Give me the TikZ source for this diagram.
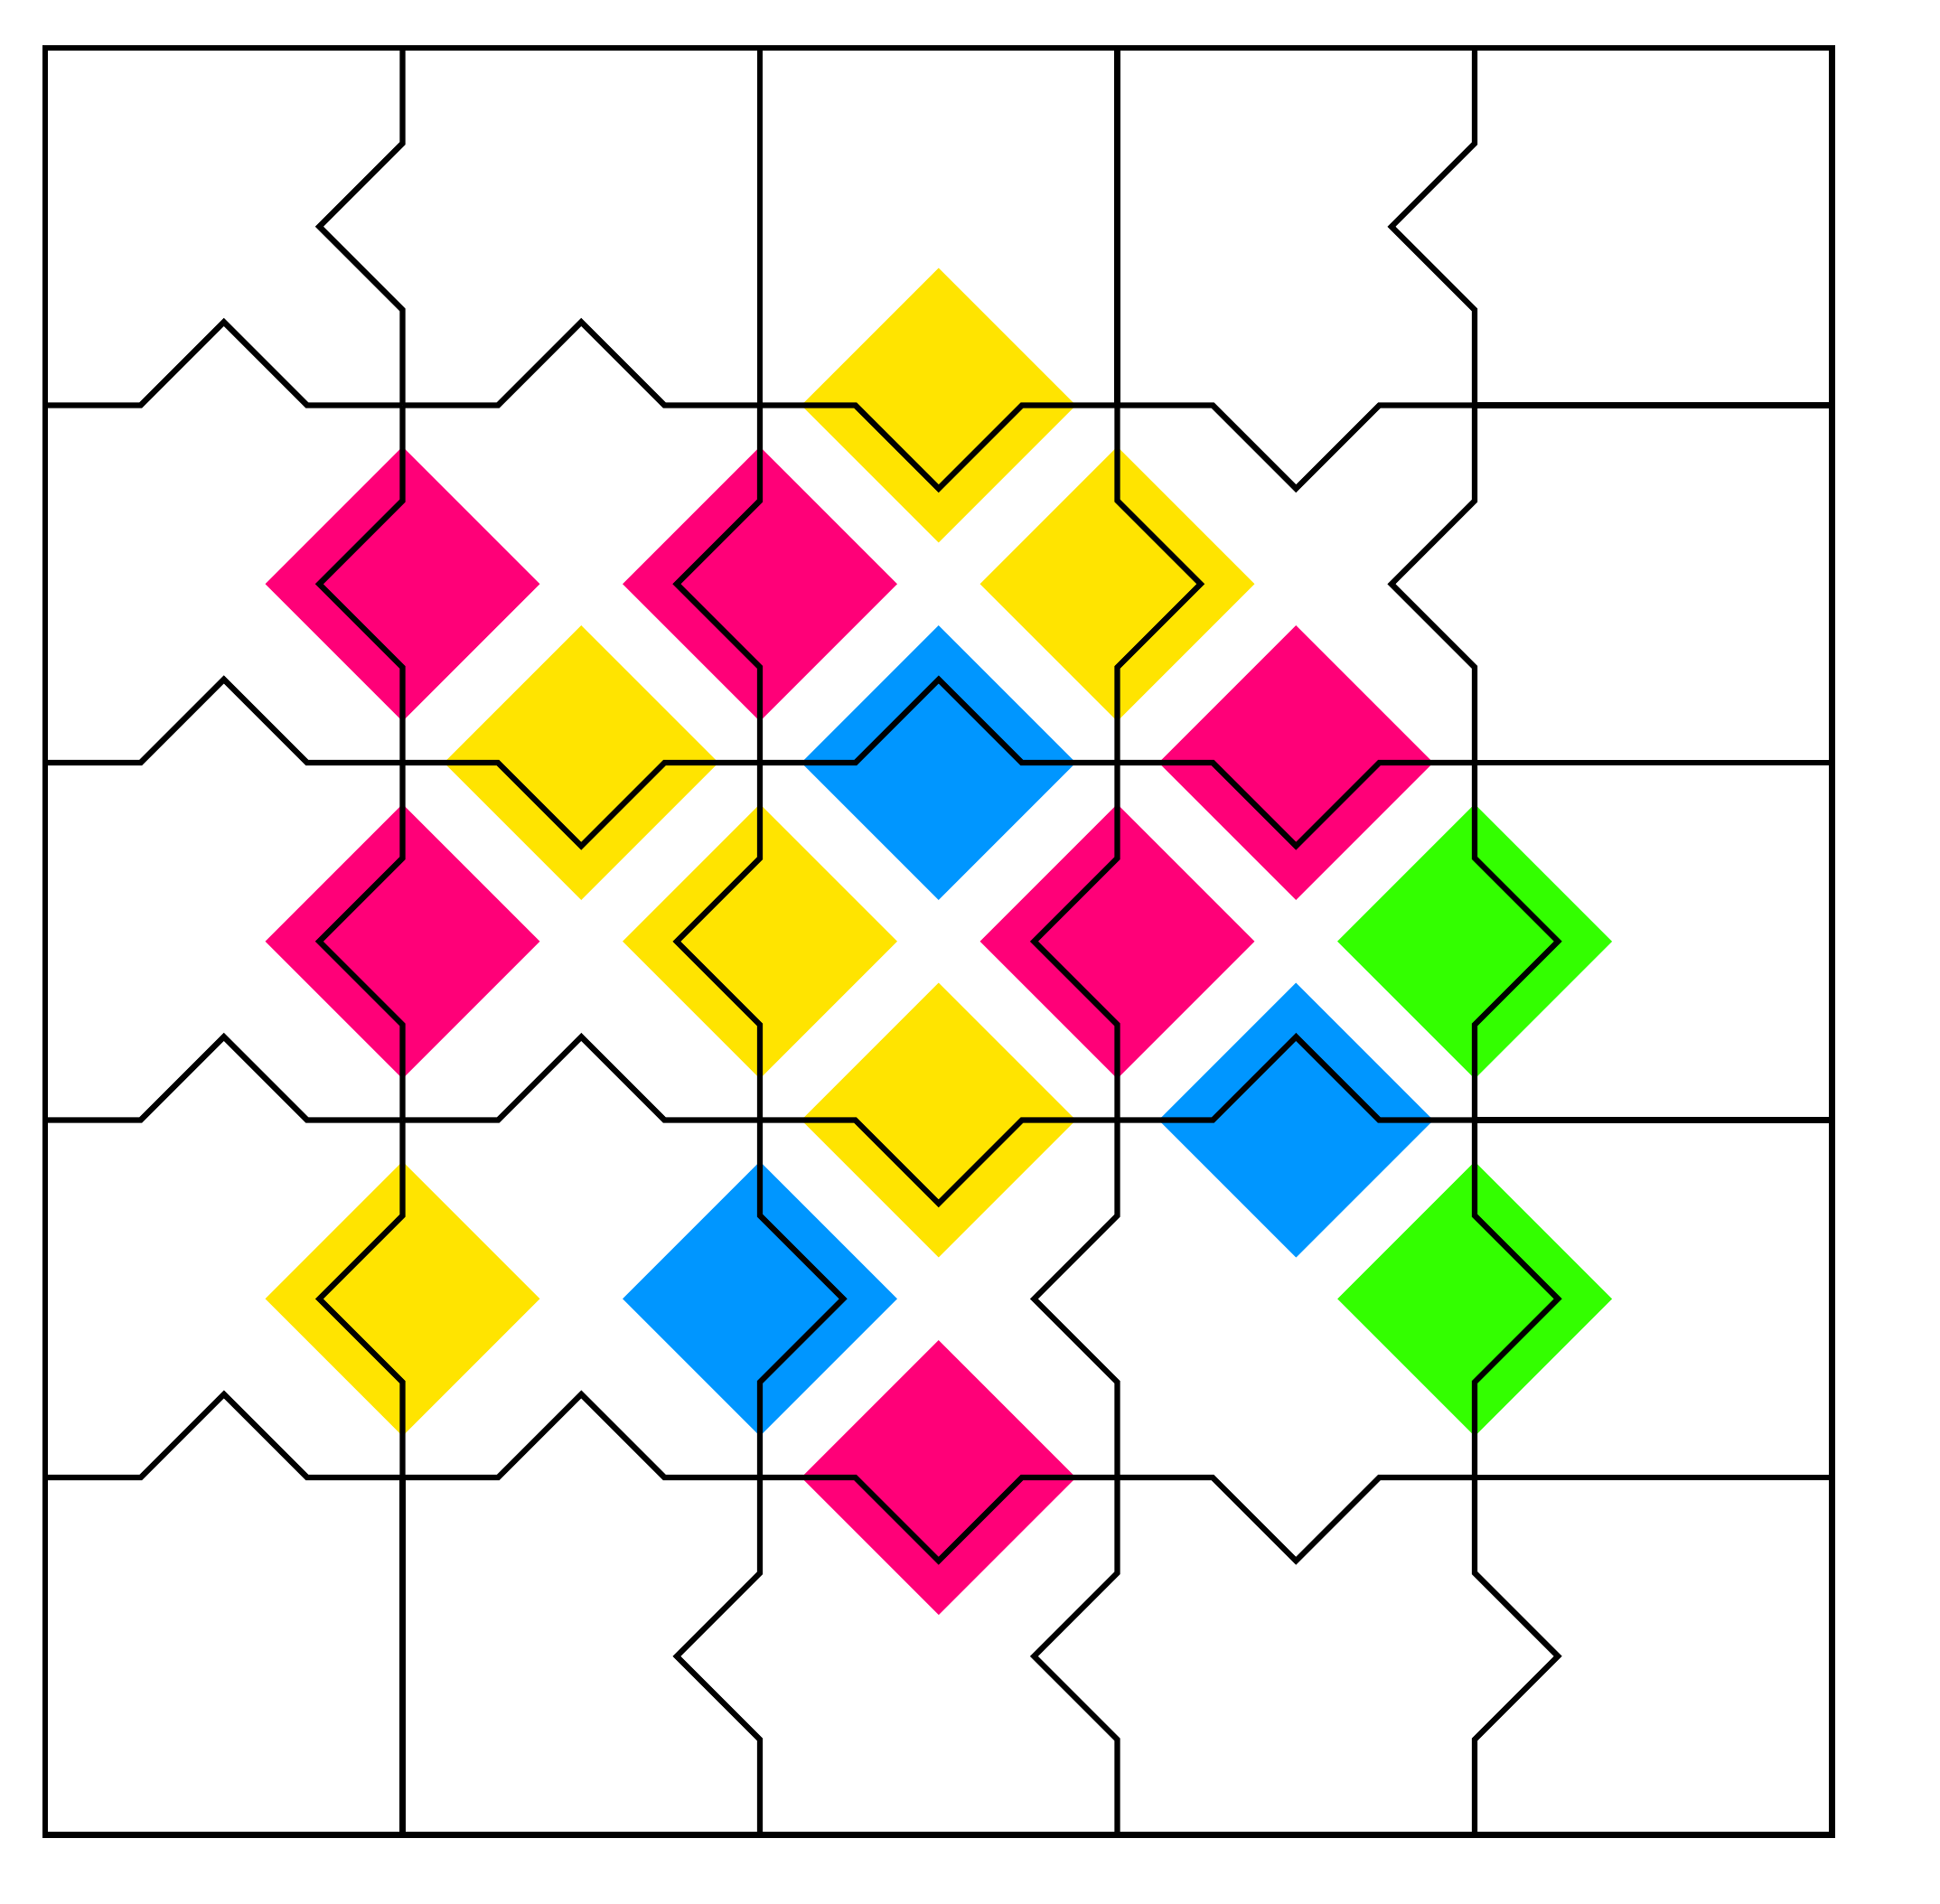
\documentclass[tikz,border=0pt]{standalone}
\usetikzlibrary{calc}
\definecolor{cpink}{HTML}{FF0078}
\definecolor{cyellow}{HTML}{FFE400}
\definecolor{cblue}{HTML}{0096FF}
\definecolor{cgreen}{HTML}{33FF00}
\begin{document}
\begin{tikzpicture}[x=2cm,y=2cm,
  edgeline/.style={draw=black,line width=0.9pt,line join=miter},
  gem/.style={fill=#1,draw=none}]
\def\a{0.233}
\def\r{0.384}
\useasboundingbox (-0.1264,0.134) rectangle (5.302,-5.191);
% diamonds on vertical edges: i, row, colour
\foreach \i/\rr/\c in {1/1/cpink,2/1/cpink,3/1/cyellow,
                      1/2/cpink,2/2/cyellow,3/2/cpink,4/2/cgreen,
                      1/3/cyellow,2/3/cblue,4/3/cgreen}{
  \fill[gem=\c] (\i-\r,-\rr-0.5) -- (\i,-\rr-0.5+\r) -- (\i+\r,-\rr-0.5) -- (\i,-\rr-0.5-\r) -- cycle;
}
% diamonds on horizontal edges: col, j, colour
\foreach \cc/\j/\c in {2/1/cyellow,1/2/cyellow,2/2/cblue,3/2/cpink,
                      2/3/cyellow,3/3/cblue,2/4/cpink}{
  \fill[gem=\c] (\cc+0.5-\r,-\j) -- (\cc+0.5,-\j+\r) -- (\cc+0.5+\r,-\j) -- (\cc+0.5,-\j-\r) -- cycle;
}
% outer border
\draw[edgeline] (0,0) rectangle (5,-5);
% horizontal inner edges: col, j, direction (1 up, -1 down, 0 straight)
\foreach \cc/\j/\d in {0/1/1,1/1/1,2/1/-1,3/1/-1,4/1/0,
                      0/2/1,1/2/-1,2/2/1,3/2/-1,4/2/0,
                      0/3/1,1/3/1,2/3/-1,3/3/1,4/3/0,
                      0/4/1,1/4/1,2/4/-1,3/4/-1,4/4/0}{
  \draw[edgeline] (\cc,-\j) -- (\cc+0.5-\a,-\j) -- (\cc+0.5,-\j+\d*\a) -- (\cc+0.5+\a,-\j) -- (\cc+1,-\j);
}
% vertical inner edges: i, row, direction (-1 left, 1 right, 0 straight)
\foreach \i/\rr/\d in {1/0/-1,2/0/0,3/0/0,4/0/-1,
                      1/1/-1,2/1/-1,3/1/1,4/1/-1,
                      1/2/-1,2/2/-1,3/2/-1,4/2/1,
                      1/3/-1,2/3/1,3/3/-1,4/3/1,
                      1/4/0,2/4/-1,3/4/-1,4/4/1}{
  \draw[edgeline] (\i,-\rr) -- (\i,-\rr-0.5+\a) -- (\i+\d*\a,-\rr-0.5) -- (\i,-\rr-0.5-\a) -- (\i,-\rr-1);
}
\end{tikzpicture}
\end{document}
